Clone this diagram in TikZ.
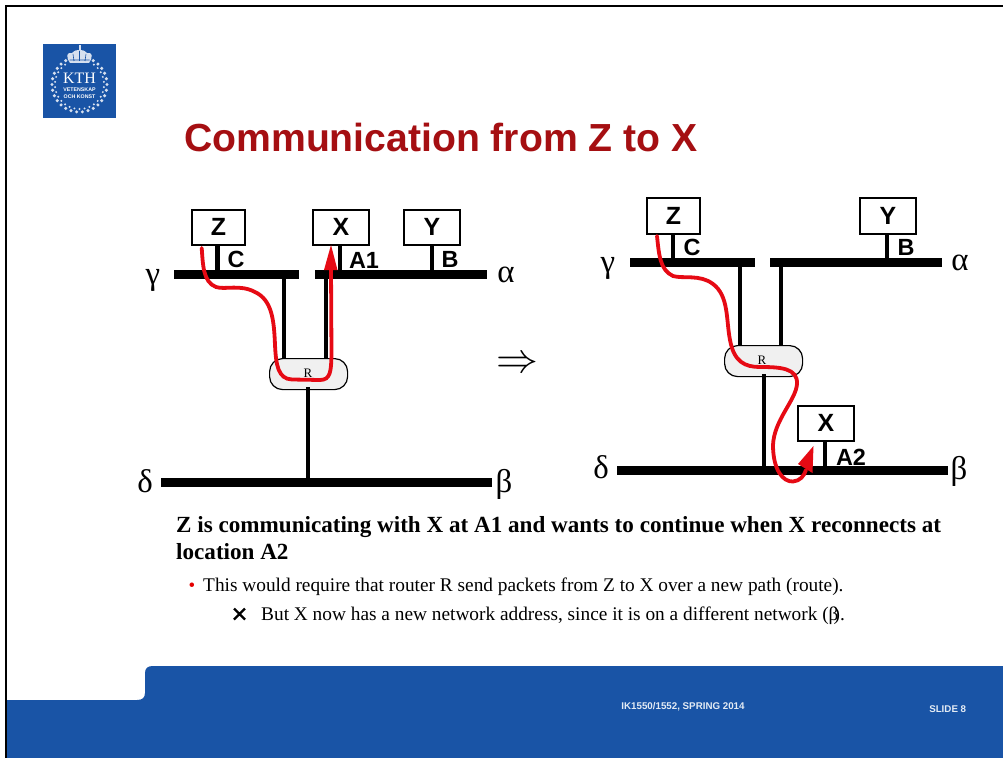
\documentclass[tikz,border=0pt]{standalone}
\usepackage{fontspec}
\usepackage{graphicx}
\setmainfont{Liberation Serif}
\setsansfont{Liberation Sans}
\usetikzlibrary{calc}
\definecolor{kthblue}{HTML}{1954A6}
\definecolor{kthred}{HTML}{A50F12}
\definecolor{pathred}{HTML}{E60A14}
\tikzset{
 x=1bp,y=-1bp,
 host/.style={draw=black,line width=1.8bp,fill=white,minimum height=0pt,inner sep=0pt,anchor=north west},
 bus/.style={line width=9bp,black},
 stem/.style={line width=4.5bp,black},
 lab/.style={font=\fontsize{23.5}{24}\selectfont\sffamily\bfseries,inner sep=0pt},
 greek/.style={font=\fontsize{33}{33}\selectfont,inner sep=0pt},
 routerbox/.style={draw=black,line width=1.2bp,fill=black!6,rounded corners=13bp,inner sep=0pt,anchor=north west},
 redpath/.style={draw=pathred,line width=3.8bp,line cap=round},
 plain/.style={inner sep=0pt,anchor=base west},
 foottext/.style={inner sep=0pt,text=white!88!kthblue,font=\fontsize{9.8}{10}\selectfont\sffamily\bfseries},
 crest/.style={white!82!kthblue},
}
\newcommand{\hostbox}[6]{% name x y w h label
 \node[host,minimum width=#4bp,minimum height=#5bp] (#1) at (#2,#3) {};
 \node[lab,font=\fontsize{25}{25}\selectfont\sffamily\bfseries] (#1t) at (#1.center) {#6};
}
\begin{document}
\begin{tikzpicture}
\useasboundingbox (0,0) rectangle (1003,758);
\fill[white] (0,0) rectangle (1003,758);
% frame
\coordinate (f1) at (1003,6);
\coordinate (f2) at (6,6);
\coordinate (f3) at (6,758);
\draw[black,line width=2bp] (f1) -- (f2) -- (f3);
% footer
\fill[kthblue] (7,700) -- (137,700) .. controls (142,700) and (145,698) .. (145,693) -- (145,673) .. controls (145,668) and (148,666) .. (153,666) -- (1003,666) -- (1003,758) -- (7,758) -- cycle;
\node[foottext] (foot) at (683,707) {IK1550/1552, SPRING 2014};
\node[foottext] (slide) at (947.7,709) {SLIDE 8};
% logo
\fill[kthblue] (43,44) rectangle (116,118);
\foreach \a in {0,12,...,348}{
 \ifnum\a>240 \ifnum\a<300 \else
 \fill[crest] ($(79.5,84.5)+(\a:27.5 and 27.5)$) circle (1.7);
 \fi\else
 \fill[crest] ($(79.5,84.5)+(\a:27.5 and 27.5)$) circle (1.7);
 \fi
}
\foreach \a in {6,18,...,354}{
 \ifnum\a>240 \ifnum\a<300 \else
 \fill[crest] ($(79.5,84.5)+(\a:24.5 and 24.5)$) circle (1.1);
 \fi\else
 \fill[crest] ($(79.5,84.5)+(\a:24.5 and 24.5)$) circle (1.1);
 \fi
}
\fill[crest] (70,63) .. controls (66,57) and (66,52) .. (72,53) .. controls (75,50) and (77,50) .. (79.5,50) .. controls (82,50) and (84,50) .. (87,53) .. controls (93,52) and (93,57) .. (89,63) -- cycle;
\fill[crest] (78.5,45.5) rectangle (80.5,51);
\draw[kthblue,line width=.6bp] (73,54) -- (74,61) (79.5,51) -- (79.5,61) (86,54) -- (85,61) (69.5,60) -- (89.5,60);
\node[inner sep=0pt,text=white,font=\fontsize{16}{16}\selectfont] (kth) at (79.5,78.5) {KTH};
\node[inner sep=0pt,text=white,font=\fontsize{5.3}{5}\selectfont\sffamily\bfseries] (v) at (79.5,90) {VETENSKAP};
\node[inner sep=0pt,text=white,font=\fontsize{5.3}{5}\selectfont\sffamily\bfseries] (o) at (79.5,97) {OCH KONST};
% title
\node[plain,text=kthred,font=\fontsize{39.3}{39}\selectfont\sffamily\bfseries] (title) at (184,151) {Communication from Z to X};
% ---- left diagram
\coordinate (gl) at (174,274.5); \coordinate (gr) at (299,274.5);
\coordinate (al) at (315,274.5); \coordinate (ar) at (487,274.5);
\coordinate (dl) at (161,482.5); \coordinate (dr) at (492,482.5);
\draw[bus] (gl) -- (gr); \draw[bus] (al) -- (ar); \draw[bus] (dl) -- (dr);
\hostbox{lz}{191}{209}{53}{35}{Z}
\hostbox{lx}{312}{209}{56}{35}{X}
\hostbox{ly}{403}{209}{56}{35}{Y}
\node[routerbox,minimum width=78bp,minimum height=31bp] (lr) at (269,358) {};
\node[inner sep=0pt,font=\fontsize{13}{13}\selectfont] (lrt) at (308,373) {R};
\draw[stem] (217.7,244) -- (217.7,274);
\draw[stem] (340,244) -- (340,274);
\draw[stem] (432,244) -- (432,274);
\draw[stem] (284,274) -- (284,358);
\draw[stem] (326,274) -- (326,358);
\draw[stem] (308,387) -- (308,482);
\node[lab] (lc) at (236,259) {C};
\node[lab] (la1) at (364,260) {A1};
\node[lab] (lb) at (450,259) {B};
\node[greek] (lg) at (153,280) {γ};
\node[greek] (la) at (506,275) {α};
\node[greek] (ld) at (145,481) {δ};
\node[greek] (lbeta) at (504,484) {β};
\draw[redpath] (201.7,248) .. controls (203,265) and (203,282) .. (216,287)
  .. controls (225,290) and (240,284) .. (255,292)
  .. controls (272,300) and (274,320) .. (275,345)
  .. controls (276,365) and (278,379) .. (292,379.5)
  -- (320,380) .. controls (331,380) and (331,370) .. (331.5,355) -- (331,268);
\fill[pathred] (331,245) -- (337.5,270) -- (324,270) -- cycle;
% implies
\node[inner sep=0pt] (imp) at (517,365) {\scalebox{4.2}{$\Rightarrow$}};
% ---- right diagram
\coordinate (Gl) at (630,262.5); \coordinate (Gr) at (755,262.5);
\coordinate (Al) at (770,262.5); \coordinate (Ar) at (942,262.5);
\coordinate (Dl) at (617,470.5); \coordinate (Dr) at (948,470.5);
\draw[bus] (Gl) -- (Gr); \draw[bus] (Al) -- (Ar); \draw[bus] (Dl) -- (Dr);
\hostbox{rz}{646}{197}{53}{36}{Z}
\hostbox{ry}{859}{197}{56}{36}{Y}
\hostbox{rx}{797}{405}{56}{35}{X}
\node[routerbox,minimum width=78bp,minimum height=31bp] (rr) at (724,345) {};
\node[inner sep=0pt,font=\fontsize{13}{13}\selectfont] (rrt) at (762,360) {R};
\draw[stem] (673,233) -- (673,262);
\draw[stem] (887,233) -- (887,262);
\draw[stem] (740,262) -- (740,345);
\draw[stem] (781,262) -- (781,345);
\draw[stem] (764,374) -- (764,470);
\draw[stem] (825,440) -- (825,470);
\node[lab] (rc) at (692,247) {C};
\node[lab] (rb) at (906,247) {B};
\node[lab] (ra2) at (851,457) {A2};
\node[greek] (rg) at (608,268) {γ};
\node[greek] (ra) at (960,263) {α};
\node[greek] (rd) at (601,467) {δ};
\node[greek] (rbeta) at (959,471) {β};
\draw[redpath] (657,236) .. controls (659,255) and (660,270) .. (673,276)
  .. controls (683,279) and (700,274) .. (713,284)
  .. controls (729,296) and (726,320) .. (730,340)
  .. controls (734,362) and (745,367) .. (760,367)
  .. controls (780,367) and (798,368) .. (797,384)
  .. controls (796,400) and (774,420) .. (773,445)
  .. controls (773,470) and (783,482) .. (793,481.5)
  .. controls (800,481) and (804,476) .. (806,470);
\fill[pathred] (813.5,446) -- (812.5,473) -- (798,464) -- cycle;
% text
\node[plain,font=\fontsize{23.2}{23}\selectfont\bfseries] (t1) at (176,532) {Z is communicating with X at A1 and wants to continue when X reconnects at};
\node[plain,font=\fontsize{23.2}{23}\selectfont\bfseries] (t2) at (176,559) {location A2};
\node[plain,text=red!90!black,font=\fontsize{19}{19}\selectfont] (b1) at (188.5,591) {\textbullet};
\node[plain,font=\fontsize{19.4}{19}\selectfont] (t3) at (203,591) {This would require that router R send packets from Z to X over a new path (route).};
\coordinate (xa) at (234,608.5); \coordinate (xb) at (245,619.5);
\coordinate (xc) at (245,608.5); \coordinate (xd) at (234,619.5);
\draw[black,line width=2.4bp] (xa) -- (xb) (xc) -- (xd);
\node[plain,font=\fontsize{19.4}{19}\selectfont] (t4) at (261,620) {But X now has a new network address, since it is on a different network (β\kern-5bp).};
\end{tikzpicture}
\end{document}
